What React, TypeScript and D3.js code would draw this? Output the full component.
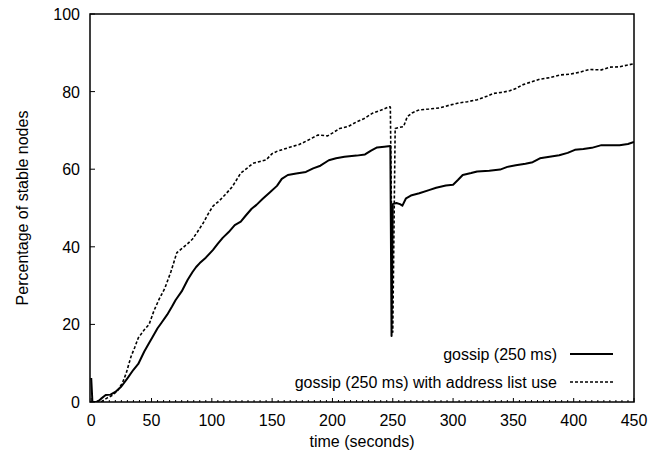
import React from 'react';
import { scaleLinear, line, range } from 'd3';

// time (s) / percentage of stable nodes
const gossipTime = [0, 1, 5, 8, 12, 16, 20, 25, 30, 35, 39, 44, 48, 51, 55, 58, 63, 67, 70, 75, 80, 84, 87, 90, 95, 101, 105, 109, 114, 119, 124, 128, 133, 137, 142, 148, 154, 158, 163, 170, 178, 184, 190, 197, 203, 210, 220, 227, 232, 237, 243, 248, 249, 250, 253, 256, 258, 261, 265, 272, 280, 286, 294, 300, 304, 308, 315, 320, 330, 339, 345, 352, 360, 366, 372, 380, 388, 395, 401, 408, 415, 423, 430, 438, 445, 450];
const gossipValue = [6.2, 0, 0, 0.8, 1.8, 1.9, 2.6, 4.0, 6.1, 8.3, 9.8, 13.0, 15.2, 16.8, 19.0, 20.3, 22.5, 24.6, 26.3, 28.5, 31.5, 33.5, 34.8, 35.8, 37.2, 39.2, 40.8, 42.3, 43.8, 45.6, 46.5, 48.0, 49.8, 50.8, 52.3, 54.0, 55.7, 57.5, 58.5, 58.9, 59.3, 60.2, 60.9, 62.3, 62.8, 63.2, 63.5, 63.8, 64.8, 65.6, 65.8, 66.0, 17, 51.0, 51.3, 51.0, 50.6, 52.5, 53.2, 53.8, 54.6, 55.2, 55.8, 56.0, 57.2, 58.5, 59.0, 59.4, 59.6, 59.9, 60.6, 61.0, 61.4, 61.8, 62.8, 63.2, 63.6, 64.2, 65.0, 65.2, 65.5, 66.2, 66.2, 66.2, 66.5, 67.0];

const addrTime = [0, 8, 13, 18, 22, 26, 29, 33, 36, 39, 44, 48, 52, 56, 61, 66, 69, 71, 75, 80, 84, 88, 93, 97, 101, 106, 111, 117, 121, 124, 129, 134, 140, 145, 150, 154, 160, 166, 172, 178, 183, 188, 196, 201, 206, 213, 220, 226, 233, 240, 247, 248, 250, 252, 256, 259, 262, 266, 272, 280, 289, 297, 305, 312, 320, 328, 333, 340, 347, 352, 358, 365, 372, 380, 389, 397, 405, 413, 423, 430, 438, 444, 449];
const addrValue = [0, 0, 1, 1.8, 3, 5, 7.4, 11.7, 14.0, 16.5, 18.6, 20, 23.5, 26.3, 29.3, 33.5, 36.5, 38.5, 39.5, 40.8, 42.0, 43.8, 46.2, 48.5, 50.5, 51.8, 53.4, 55.5, 57.5, 59.0, 60.2, 61.5, 62.0, 62.4, 64.0, 64.6, 65.2, 65.8, 66.3, 67.2, 68.0, 68.8, 68.6, 69.5, 70.5, 71.0, 72.2, 73.0, 74.4, 75.2, 76.1, 76.0, 18, 70.5, 70.8, 71.0, 73.5, 74.5, 75.3, 75.5, 75.8, 76.5, 77.1, 77.4, 77.9, 78.8, 79.5, 79.8, 80.2, 80.8, 81.8, 82.5, 83.2, 83.6, 84.3, 84.5, 85.0, 85.7, 85.6, 86.3, 86.4, 86.8, 87.1];

const xTicks = [0, 50, 100, 150, 200, 250, 300, 350, 400, 450];
const yTicks = [0, 20, 40, 60, 80, 100];
const seriesNames = ['gossip (250 ms)', 'gossip (250 ms) with address list use'];

const W = 652;
const H = 457;
const left = 90;
const right = 634;
const top = 14;
const bottom = 402;
const font = '"Liberation Sans", Arial, Helvetica, sans-serif';

export default function App() {
  const x = scaleLinear().domain([-1, 450]).range([left, right]);
  const y = scaleLinear().domain([0, 100]).range([bottom, top]);

  const path = line<[number, number]>()
    .x(d => x(d[0]))
    .y(d => y(d[1]));

  const gossip = gossipTime.map((t, i) => [t, gossipValue[i]] as [number, number]);
  const addr = addrTime.map((t, i) => [t, addrValue[i]] as [number, number]);

  const minor = range(0, 451, 5).filter(v => v % 50 !== 0);

  return (
    <svg width={W} height={H} style={{ position: 'absolute', left: 0, top: 0 }} fontFamily={font} fontSize={16}>
      <rect x={0} y={0} width={W} height={H} fill="#fff" />
      <defs>
        <clipPath id="plot">
          <rect x={left} y={top} width={right - left} height={bottom - top} />
        </clipPath>
      </defs>

      {/* x ticks */}
      {minor.map(v => (
        <line key={'m' + v} x1={x(v)} x2={x(v)} y1={bottom} y2={bottom - 2} stroke="#000" />
      ))}
      {xTicks.map(v => (
        <g key={'x' + v}>
          <line x1={x(v)} x2={x(v)} y1={bottom} y2={bottom - 4} stroke="#000" />
          <text x={x(v)} y={bottom + 24} textAnchor="middle">{v}</text>
        </g>
      ))}

      {/* y ticks */}
      {yTicks.map(v => (
        <g key={'y' + v}>
          <line x1={left} x2={left + 5} y1={y(v)} y2={y(v)} stroke="#000" />
          <text x={left - 10} y={y(v) + 6} textAnchor="end">{v}</text>
        </g>
      ))}

      <g clipPath="url(#plot)" fill="none" stroke="#000" strokeLinejoin="round">
        <path d={path(gossip) || ''} strokeWidth={2} />
        <path d={path(addr) || ''} strokeWidth={1.6} strokeDasharray="3,2" />
      </g>

      <rect x={left} y={top} width={right - left} height={bottom - top} fill="none" stroke="#000" strokeWidth={1.5} />

      {/* legend */}
      <text x={557} y={360} textAnchor="end">{seriesNames[0]}</text>
      <line x1={570} x2={613} y1={354} y2={354} stroke="#000" strokeWidth={2} />
      <text x={557} y={388} textAnchor="end">{seriesNames[1]}</text>
      <line x1={570} x2={613} y1={382} y2={382} stroke="#000" strokeWidth={1.6} strokeDasharray="3,2" />

      <text x={(left + right) / 2} y={447} textAnchor="middle">time (seconds)</text>
      <text transform={`translate(28,${(top + bottom) / 2}) rotate(-90)`} textAnchor="middle">Percentage of stable nodes</text>
    </svg>
  );
}
